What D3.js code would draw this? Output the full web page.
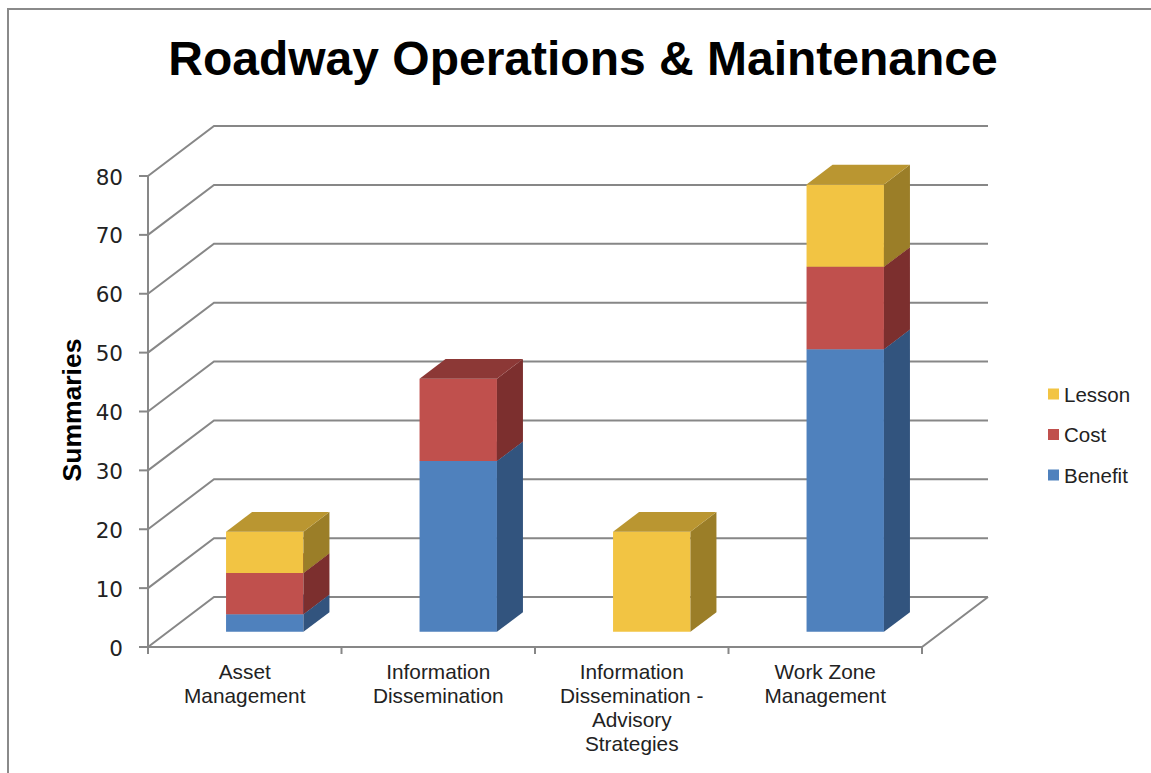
<!DOCTYPE html>
<html>
<head>
<meta charset="utf-8">
<script src="https://cdn.jsdelivr.net/npm/d3@7"></script>
<style>
  html, body { margin: 0; padding: 0; background: #fff; }
  svg { display: block; }
  text { font-family: "Liberation Sans", Arial, sans-serif; fill: #000; }
</style>
</head>
<body>
<script>
// ---- data ----
const categories = ["Asset Management", "Information Dissemination", "Information Dissemination - Advisory Strategies", "Work Zone Management"];
const categoryLines = [["Asset", "Management"], ["Information", "Dissemination"], ["Information", "Dissemination -", "Advisory", "Strategies"], ["Work Zone", "Management"]];
const seriesNames = ["Benefit", "Cost", "Lesson"];
const benefit = [3, 29, 0, 48];
const cost = [7, 14, 0, 14];
const lesson = [7, 0, 17, 14];
const yTicks = [0, 10, 20, 30, 40, 50, 60, 70, 80];
const title = "Roadway Operations & Maintenance";
const yTitle = "Summaries";

// ---- styles ----
const colors = {
  Benefit: { front: "#4F81BD", side: "#32547E", top: "#3E6699" },
  Cost:    { front: "#C0504D", side: "#7C2F2E", top: "#8C3836" },
  Lesson:  { front: "#F2C443", side: "#9B7E28", top: "#BA9631" }
};

const W = 1151, H = 773;
const svg = d3.select("body").append("svg").attr("width", W).attr("height", H);

// border
svg.append("rect").attr("x", 8).attr("y", 9).attr("width", 1200).attr("height", 900)
  .attr("fill", "none").attr("stroke", "#8a8a8a").attr("stroke-width", 2);

// plot geometry
const x0 = 148, x1 = 922;
const DX = 66, DY = 50;          // depth offset of the back wall
const dFront = 0.303, dBack = 0.697;

const y = d3.scaleLinear().domain([0, 80]).range([647, 176]);
const x = d3.scaleBand().domain(categories).range([x0, x1]).paddingInner(0.6).paddingOuter(0.3);

const gridColor = "#878787";
const g = svg.append("g");

// gridlines on back wall
yTicks.forEach(t => {
  const yy = y(t);
  g.append("path")
    .attr("d", `M${x0},${yy} L${x0 + DX},${yy - DY} L${x1 + DX},${yy - DY}`)
    .attr("fill", "none").attr("stroke", gridColor).attr("stroke-width", 2);
});
// floor front and right edges
g.append("path")
  .attr("d", `M${x0},${y(0)} L${x1},${y(0)} L${x1 + DX},${y(0) - DY}`)
  .attr("fill", "none").attr("stroke", gridColor).attr("stroke-width", 2);

// y axis line and ticks
g.append("line").attr("x1", x0).attr("x2", x0).attr("y1", y(80)).attr("y2", y(0))
  .attr("stroke", gridColor).attr("stroke-width", 2);
yTicks.forEach(t => {
  g.append("line").attr("x1", x0 - 9).attr("x2", x0).attr("y1", y(t)).attr("y2", y(t))
    .attr("stroke", gridColor).attr("stroke-width", 2);
  g.append("text").attr("x", 123).attr("y", y(t) + 1).attr("text-anchor", "end")
    .attr("dominant-baseline", "central")
    .style("font-family", "'DejaVu Sans', Verdana, sans-serif")
    .style("font-size", "21.5px").style("fill", "#222").text(t);
});

// category ticks
const step = x.step();
for (let i = 0; i <= categories.length; i++) {
  const xx = x0 + i * step;
  g.append("line").attr("x1", xx).attr("x2", xx).attr("y1", y(0)).attr("y2", y(0) + 7)
    .attr("stroke", gridColor).attr("stroke-width", 2);
}

// category labels
categories.forEach((c, i) => {
  const cx = x(c) + x.bandwidth() / 2;
  const t = g.append("text").attr("text-anchor", "middle").style("font-size", "20.8px").style("fill", "#222");
  categoryLines[i].forEach((line, j) => {
    t.append("tspan").attr("x", cx).attr("y", 679 + j * 24).text(line);
  });
});

// bars
const seriesVals = { Benefit: benefit, Cost: cost, Lesson: lesson };
const fdx = dFront * DX, fdy = dFront * DY;
const bdx = dBack * DX, bdy = dBack * DY;
categories.forEach((c, i) => {
  const xl = x(c) + fdx, xr = xl + x.bandwidth();
  let cum = 0;
  seriesNames.forEach(s => {
    const v = seriesVals[s][i];
    if (v <= 0) return;
    const yb = y(cum) - fdy, yt = y(cum + v) - fdy;
    cum += v;
    const dx = bdx - fdx, dy = bdy - fdy;
    const col = colors[s];
    // front
    g.append("path").attr("d", `M${xl},${yb} L${xr},${yb} L${xr},${yt} L${xl},${yt} Z`).attr("fill", col.front);
    // side
    g.append("path").attr("d", `M${xr},${yb} L${xr + dx},${yb - dy} L${xr + dx},${yt - dy} L${xr},${yt} Z`).attr("fill", col.side);
    // top
    g.append("path").attr("d", `M${xl},${yt} L${xr},${yt} L${xr + dx},${yt - dy} L${xl + dx},${yt - dy} Z`).attr("fill", col.top);
  });
});

// title
svg.append("text").attr("x", 583).attr("y", 75).attr("text-anchor", "middle")
  .style("font-size", "48px").style("font-weight", "bold").text(title);

// y title
svg.append("text").attr("transform", "translate(72,410) rotate(-90)").attr("text-anchor", "middle")
  .attr("dominant-baseline", "central").style("font-size", "26.5px").style("font-weight", "bold").text(yTitle);

// legend
const legendOrder = ["Lesson", "Cost", "Benefit"];
legendOrder.forEach((s, i) => {
  const ly = 394 + i * 40.5;
  svg.append("rect").attr("x", 1048).attr("y", ly - 5.5).attr("width", 11).attr("height", 11).attr("fill", colors[s].front);
  svg.append("text").attr("x", 1064).attr("y", ly).attr("dominant-baseline", "central")
    .style("font-size", "20.5px").style("fill", "#222").text(s);
});
</script>
</body>
</html>
